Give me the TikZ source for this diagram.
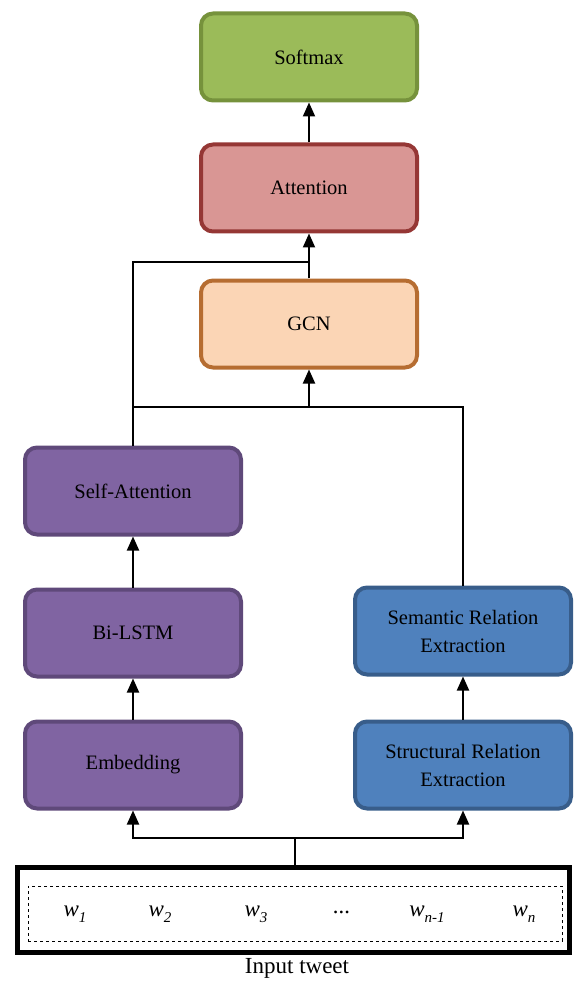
\documentclass[tikz,border=0pt]{standalone}
\usepackage{fontspec}
\setmainfont{Liberation Serif}
\usetikzlibrary{arrows.meta,positioning}
\definecolor{smfill}{HTML}{9BBB59}
\definecolor{smline}{HTML}{76923C}
\definecolor{atfill}{HTML}{D99694}
\definecolor{atline}{HTML}{953735}
\definecolor{gcfill}{HTML}{FBD5B5}
\definecolor{gcline}{HTML}{B66D31}
\definecolor{ppfill}{HTML}{8064A2}
\definecolor{ppline}{HTML}{5F497A}
\definecolor{blfill}{HTML}{4F81BD}
\definecolor{blline}{HTML}{385D8A}
\tikzset{
    blk/.style={rectangle, rounded corners=12pt, line width=4pt, minimum width=216pt,
      minimum height=87pt, align=center, inner sep=0,
      font=\fontsize{20.5}{28}\selectfont},
    green/.style={blk, fill=smfill, draw=smline},
    red/.style={blk, fill=atfill, draw=atline},
    orange/.style={blk, fill=gcfill, draw=gcline},
    purple/.style={blk, fill=ppfill, draw=ppline},
    blue/.style={blk, fill=blfill, draw=blline},
    wrd/.style={font=\fontsize{23}{24}\selectfont\itshape},
    conn/.style={line width=2pt},
    post/.style={-{Triangle[length=14pt,width=12pt]}, line width=2pt},
  }
\newcommand{\wsub}[1]{w\raisebox{-6pt}{\fontsize{15}{15}\selectfont #1}}

\begin{document}
\begin{tikzpicture}[x=1pt,y=-1pt]
      \useasboundingbox (0,0) rectangle (574,981);
      \node (softmax) [green] at (309,57) {Softmax};
      \node (att) [red] at (309,188) {Attention};
      \node (gcn) [orange] at (309,324) {GCN};
      \node (selfatt) [purple] at (133,491) {Self-Attention};
      \node (bilstm) [purple] at (133,633) {Bi-LSTM};
      \node (embed) [purple] at (133,765) {Embedding};
      \node (semrel) [blue] at (463,631) {Semantic Relation\\Extraction};
      \node (strrel) [blue] at (463,765) {Structural Relation\\Extraction};

      % input tweet
      \node (tweet) [draw, line width=5pt, minimum width=552pt, minimum height=85pt] at (293.5,910) {};
      \node (words) [draw, dashed, thin, minimum width=534pt, minimum height=55pt] at (295,913.5) {};
      \node (w1) [wrd] at (75,914) {\wsub{1}};
      \node (w2) [wrd] at (160,914) {\wsub{2}};
      \node (w3) [wrd] at (256,914) {\wsub{3}};
      \node (dots) [wrd] at (342,912) {...};
      \node (wn1) [wrd] at (427,914) {\wsub{n-1}};
      \node (wn) [wrd] at (524,914) {\wsub{n}};
      \node (label) [font=\fontsize{23}{24}\selectfont] at (297,968) {Input tweet};

      \coordinate (split) at (295,838);
      \coordinate (gcnin) at (309,407);
      \coordinate (attin) at (309,262);

      \draw[conn] (split |- tweet.north) -- (split);
      \draw[post] (split) -| (embed.south);
      \draw[post] (split) -| (strrel.south);
      \draw[post] (embed) -- (bilstm);
      \draw[post] (bilstm) -- (selfatt);
      \draw[post] (strrel) -- (semrel);
      \draw[conn] (semrel.north) |- (gcnin);
      \draw[conn] (selfatt.north) |- (attin);
      \draw[conn] (selfatt.north |- gcnin) -- (gcnin);
      \draw[post] (gcnin) -- (gcn.south);
      \draw[post] (gcn) -- (att);
      \draw[post] (att) -- (softmax);
\end{tikzpicture}
\end{document}
